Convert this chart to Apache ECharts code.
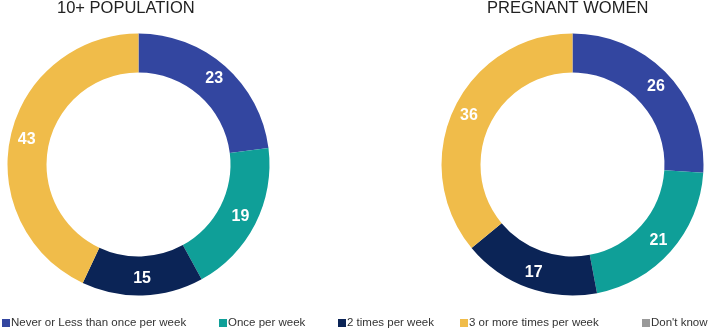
<!DOCTYPE html>
<html>
<head>
<meta charset="utf-8">
<script src="https://cdn.jsdelivr.net/npm/echarts@6/dist/echarts.min.js"></script>
<style>
  html, body { margin: 0; padding: 0; background: #fff; }
  #chart { width: 709px; height: 331px; }
</style>
</head>
<body>
<div id="chart"></div>
<script>
  // categories
  var categories = ['Never or Less than once per week', 'Once per week', '2 times per week', '3 or more times per week', "Don't know"];
  var colors = ['#3346a0', '#0f9f98', '#0b2456', '#f0bc4a', '#999999'];
  // values (%)
  var population = [23, 19, 15, 43, 0];
  var pregnant = [26, 21, 17, 36, 0];
  var titles = ['10+ POPULATION', 'PREGNANT WOMEN'];

  // legend x positions
  var legendLeft = [2, 219, 338, 460, 642];

  function buildData(values) {
    var arr = [];
    for (var i = 0; i < categories.length; i++) {
      arr.push({ name: categories[i], value: values[i], itemStyle: { color: colors[i] } });
    }
    return arr;
  }

  function buildSeries(values, cx) {
    return {
      type: 'pie',
      center: [cx, 164.5],
      radius: [92, 131],
      startAngle: 90,
      clockwise: true,
      avoidLabelOverlap: false,
      silent: true,
      label: {
        show: true,
        position: 'inside',
        color: '#fff',
        fontFamily: 'Liberation Sans, Arial, sans-serif',
        fontWeight: 'bold',
        fontSize: 16,
        formatter: function (p) { return p.value ? String(p.value) : ''; }
      },
      labelLine: { show: false },
      data: buildData(values)
    };
  }

  var legends = [];
  for (var i = 0; i < categories.length; i++) {
    legends.push({
      data: [categories[i]],
      left: legendLeft[i],
      top: 317,
      padding: 0,
      icon: 'rect',
      itemWidth: 8,
      itemHeight: 8,
      selectedMode: false,
      textStyle: {
        color: '#333',
        fontFamily: 'Liberation Sans, Arial, sans-serif',
        fontSize: 11.5,
        padding: [0, 0, 0, -4]
      }
    });
  }

  var chart = echarts.init(document.getElementById('chart'));
  chart.setOption({
    animation: false,
    title: [
      { text: titles[0], left: 57, top: 0, padding: 0,
        textStyle: { color: '#222', fontFamily: 'Liberation Sans, Arial, sans-serif', fontWeight: 'normal', fontSize: 16.5 } },
      { text: titles[1], left: 487, top: 0, padding: 0,
        textStyle: { color: '#222', fontFamily: 'Liberation Sans, Arial, sans-serif', fontWeight: 'normal', fontSize: 16.5 } }
    ],
    legend: legends,
    series: [
      buildSeries(population, 138.5),
      buildSeries(pregnant, 572.5)
    ]
  });
</script>
</body>
</html>
